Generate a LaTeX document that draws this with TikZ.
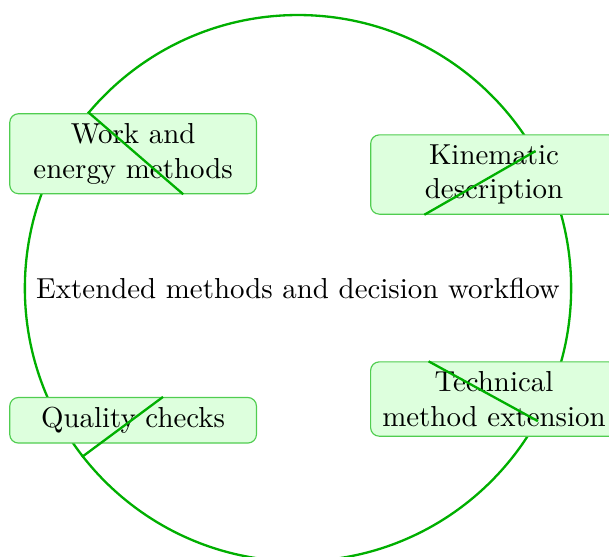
\documentclass[tikz,border=0pt]{standalone}
\definecolor{ringgreen}{RGB}{0,175,0}
\definecolor{boxline}{RGB}{80,205,80}
\definecolor{boxfill}{RGB}{221,255,221}

\begin{document}
\begin{tikzpicture}[every node/.style = {shape=rectangle,
                    align=center},
                    hub/.style={shape=circle, draw=ringgreen, thick,
                    minimum size=189pt, inner sep=0pt},
                    topic/.style={draw=boxline, fill=boxfill,
                    rounded corners=3pt, minimum width=3cm},
                    spoke/.style={draw=ringgreen, thick}]
  \useasboundingbox (-103.1pt,-92.7pt) rectangle (107.6pt,99.7pt);
  \node[hub] (workflow) at (0,0) {Extended methods and decision workflow};

  \node[topic] (work) at (140.8:73.6pt) {Work and\\energy methods};
  \node[topic] (kinematic) at (30.1:78.4pt) {Kinematic\\description};
  \node[topic] (technical) at (-29.5:77.9pt) {Technical\\method extension};
  \node[topic] (quality) at (218.7:73.1pt) {Quality checks};

  \draw[spoke] (workflow.140.8) -- (work.-39.2);
  \draw[spoke] (workflow.30.1) -- (kinematic.210.1);
  \draw[spoke] (workflow.-29.5) -- (technical.150.5);
  \draw[spoke] (workflow.218.7) -- (quality.38.7);
\end{tikzpicture}
\end{document}
